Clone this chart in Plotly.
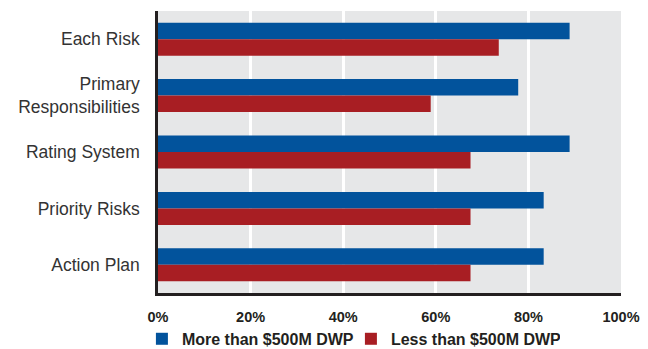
import plotly.graph_objects as go

# Survey categories, top to bottom
categories = ["Each Risk", "Primary<br>Responsibilities", "Rating System", "Priority Risks", "Action Plan"]

# Share of respondents (%) by company size
more_than_500m = [88.9, 77.8, 88.9, 83.3, 83.3]
less_than_500m = [73.6, 58.9, 67.5, 67.5, 67.5]

series_names = ["More than $500M DWP", "Less than $500M DWP"]
x_ticks = [0, 20, 40, 60, 80, 100]
x_tick_labels = ["0%", "20%", "40%", "60%", "80%", "100%"]

BLUE = "#02539c"
RED = "#a81e23"
INK = "#231f20"
FONT = "Liberation Sans, Arial, sans-serif"

fig = go.Figure()
fig.add_trace(go.Bar(y=categories, x=more_than_500m, orientation="h",
                     name=series_names[0], marker=dict(color=BLUE, line=dict(width=0))))
fig.add_trace(go.Bar(y=categories, x=less_than_500m, orientation="h",
                     name=series_names[1], marker=dict(color=RED, line=dict(width=0))))

fig.update_layout(
    width=648, height=349,
    margin=dict(l=158, r=27, t=11, b=56, autoexpand=False),
    paper_bgcolor="white",
    plot_bgcolor="#e6e7e8",
    barmode="group",
    bargap=0.415,
    bargroupgap=0,
    font=dict(family=FONT, color="#333333"),
    showlegend=True,
    legend=dict(
        orientation="h",
        xref="container", x=0.219, xanchor="left",
        yref="container", y=0.029, yanchor="middle",
        font=dict(family=FONT, size=16, color=INK, weight="bold"),
        itemwidth=30,
        entrywidth=164,
        bgcolor="rgba(0,0,0,0)",
        traceorder="normal",
    ),
)

fig.update_xaxes(
    range=[0, 100],
    tickmode="array",
    tickvals=x_ticks,
    ticktext=x_tick_labels,
    showgrid=True, gridcolor="white", gridwidth=3,
    zeroline=False,
    showline=True, linecolor=INK, linewidth=2.5,
    ticks="", ticklabelstandoff=9,
    tickfont=dict(family=FONT, size=14.5, color=INK, weight="bold"),
    fixedrange=True,
)
fig.update_yaxes(
    autorange="reversed",
    showgrid=False, zeroline=False,
    showline=True, linecolor=INK, linewidth=2.5,
    ticks="", ticklabelstandoff=12,
    tickfont=dict(family=FONT, size=17.5, color="#333333"),
    fixedrange=True,
)

fig.write_html("out.html")
